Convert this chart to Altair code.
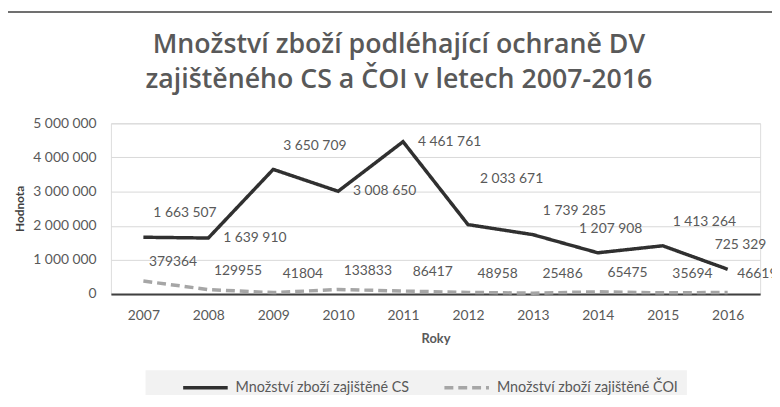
import altair as alt
import pandas as pd

# ---- data ----
years = ["2007", "2008", "2009", "2010", "2011", "2012", "2013", "2014", "2015", "2016"]
cs_values = [1663507, 1639910, 3650709, 3008650, 4461761, 2033671, 1739285, 1207908, 1413264, 725329]
coi_values = [379364, 129955, 41804, 133833, 86417, 48958, 25486, 65475, 35694, 46619]
series_names = ["Množství zboží zajištěné CS", "Množství zboží zajištěné ČOI"]
y_ticks = [0, 1000000, 2000000, 3000000, 4000000, 5000000]
title_lines = ["Množství zboží podléhající ochraně DV", "zajištěného CS a ČOI v letech 2007-2016"]
# label placement style for CS series (Excel-like label positions)
cs_label_side = ["above-right", "right", "above-right", "right", "right",
                 "high", "above-right", "above", "above-right", "above"]

rows = []
for i, yr in enumerate(years):
    rows.append({"rok": yr, "hodnota": cs_values[i], "rada": series_names[0], "strana": cs_label_side[i]})
    rows.append({"rok": yr, "hodnota": coi_values[i], "rada": series_names[1], "strana": "coi"})
df = pd.DataFrame(rows)

FONT = "Lato"
TXT = "#595959"

x_enc = alt.X(
    "rok:O",
    scale=alt.Scale(type="point", padding=0.5),
    axis=alt.Axis(
        title="Roky", labelAngle=0, ticks=False, labelPadding=15, grid=False,
        domain=True, domainColor="#404040", domainWidth=2,
        labelFont=FONT, labelFontSize=14, labelColor=TXT,
        titleFont=FONT, titleFontSize=13, titleFontWeight="bold", titleColor=TXT, titlePadding=10,
    ),
)
y_enc = alt.Y(
    "hodnota:Q",
    scale=alt.Scale(domain=[0, 5000000], nice=False),
    axis=alt.Axis(
        values=y_ticks,
        tickCount=6,
        labelExpr="join(split(format(datum.value, ','), ','), ' ')",
        labelOverlap=False,
        domain=False, ticks=False, labelPadding=15,
        gridColor="#d9d9d9", gridWidth=1,
        labelFont=FONT, labelFontSize=14, labelColor=TXT,
        title="Hodnota", titleFont=FONT, titleFontSize=12, titleFontWeight="bold", titleColor="#404040",
        titleAngle=-90, titleX=-92, titleY=86, titleAlign="center", titleBaseline="middle",
    ),
)

legend_cfg = dict(
    title=None, orient="none", direction="horizontal",
    legendX=35, legendY=249.5,
    fillColor="#f2f2f2", padding=8,
    symbolType="M-3,0H3", symbolSize=225, symbolStrokeWidth=3.5,
    symbolOffset=43, labelOffset=21,
    labelFont=FONT, labelFontSize=14.5, labelColor=TXT,
    columnPadding=5, labelLimit=400,
)

base = alt.Chart(df)

lines = base.mark_line(strokeWidth=3.5).encode(
    x=x_enc,
    y=y_enc,
    color=alt.Color(
        "rada:N",
        scale=alt.Scale(domain=series_names, range=["#303030", "#a6a6a6"]),
        legend=alt.Legend(**legend_cfg),
    ),
    strokeDash=alt.StrokeDash(
        "rada:N",
        scale=alt.Scale(domain=series_names, range=[[1, 0], [9, 5]]),
        legend=alt.Legend(**legend_cfg),
    ),
)

label_expr = "join(split(format(datum.hodnota, ','), ','), ' ')"
side_style = {
    "right": dict(align="left", dx=15, dy=0),
    "above-right": dict(align="center", dx=42, dy=-24),
    "above": dict(align="center", dx=13, dy=-24),
    "high": dict(align="center", dx=44, dy=-46),
}
layers = [lines]
for side, st in side_style.items():
    layers.append(
        base.transform_filter(f"datum.strana == '{side}'")
        .transform_calculate(lbl=label_expr)
        .mark_text(font=FONT, fontSize=14, color=TXT, baseline="middle", **st)
        .encode(x=alt.X("rok:O"), y=alt.Y("hodnota:Q"), text="lbl:N")
    )
layers.append(
    base.transform_filter("datum.strana == 'coi'")
    .mark_text(font=FONT, fontSize=14, color=TXT, baseline="middle", align="center", dx=30, dy=-19)
    .encode(x=alt.X("rok:O"), y=alt.Y("hodnota:Q"), text=alt.Text("hodnota:Q", format="d"))
)

# outer chart frame (left and top edges visible in the reference)
frame_src = pd.DataFrame({"k": [0]})
frame_left = alt.Chart(frame_src).mark_rule(color="#404040", strokeWidth=1.5).encode(
    x=alt.value(-105), y=alt.value(-112.5), y2=alt.value(300)
)
frame_top = alt.Chart(frame_src).mark_rule(color="#404040", strokeWidth=1.5).encode(
    x=alt.value(-105), x2=alt.value(680), y=alt.value(-112.5)
)
layers += [frame_left, frame_top]

chart = alt.layer(*layers).properties(
    width=656,
    height=172.5,
    autosize=alt.AutoSizeParams(type="none"),
    padding={"left": 104, "top": 114.5, "right": 12, "bottom": 100},
    title=alt.TitleParams(
        text=title_lines, font="Open Sans", fontSize=27, fontWeight=600, color=TXT,
        anchor="middle", dx=-37, dy=84, lineHeight=36, offset=0,
    ),
).configure_view(stroke=None).configure_axis(labelOverlap=False).configure(background="white")

chart.save("out.html", embed_options={"renderer": "svg", "actions": False})
